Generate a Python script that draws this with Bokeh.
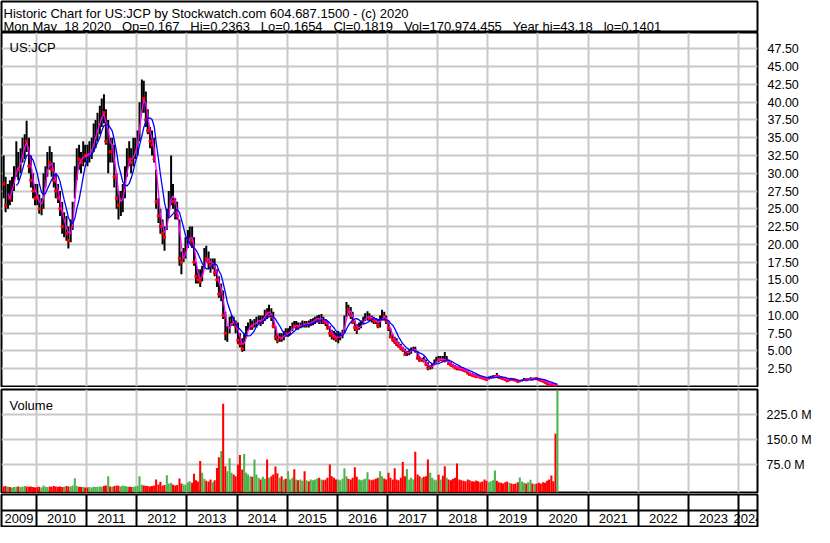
import pandas as pd
from bokeh.plotting import figure
from bokeh.layouts import column
from bokeh.models import (ColumnDataSource, Range1d, FixedTicker, NumeralTickFormatter,
                          PrintfTickFormatter, Label, Span)
from bokeh.core.properties import value
from bokeh.embed import file_html
from bokeh.resources import INLINE

# ---------------- texts ----------------
TITLE = "Historic Chart for US:JCP by Stockwatch.com 604.687.1500 - (c) 2020"
NB = "\u00a0"
QUOTE = (NB * 3).join(["Mon May" + NB * 2 + "18 2020", "Op=0.167", "Hi=0.2363", "Lo=0.1654",
                       "Cl=0.1819", "Vol=170,974,455", "Year hi=43.18", "lo=0.1401"])
SYMBOL = "US:JCP"
VOL_TITLE = "Volume"

# ---------------- data (semi-monthly periods, May 2009 .. May 2020) ----------------
PERIOD_START = "2009-05-01"
PERIOD_END = "2020-05-15"

HIGH = [
    32.5, 29.5, 28.5, 29.0, 29.5, 31.0, 34.5, 33.0, 33.5, 35.0, 35.5, 37.4, 35.0, 32.5, 30.0, 28.5,
    28.5, 27.0, 26.5, 30.0, 31.0, 33.0, 33.8, 33.0, 31.5, 30.0, 28.5, 27.5, 26.0, 24.5, 24.0, 22.5, 23.5, 26.0, 31.0, 33.5, 34.0, 33.0, 34.5, 34.0,
    34.0, 34.5, 35.0, 37.0, 37.5, 38.5, 39.5, 40.5, 41.1, 39.0, 37.5, 35.0, 35.0, 34.0, 30.0, 27.5, 27.5, 28.5, 31.0, 33.5, 34.5, 33.5, 35.0, 35.0,
    36.0, 40.0, 43.2, 43.0, 41.5, 39.0, 36.5, 36.0, 35.0, 30.5, 26.5, 25.0, 23.5, 22.5, 25.0, 27.5, 32.5, 28.5, 26.5, 26.0, 23.5, 19.0, 19.5, 21.0,
    22.0, 22.5, 22.5, 21.0, 17.5, 16.5, 16.5, 17.0, 19.5, 19.8, 19.0, 18.0, 18.0, 18.0, 16.5, 15.5, 14.5, 13.5, 10.5, 8.5, 9.8, 10.0, 9.8, 9.3,
    9.0, 7.5, 6.8, 7.5, 8.5, 9.0, 9.5, 9.3, 9.5, 9.8, 10.0, 10.0, 10.0, 10.8, 11.0, 11.5, 11.0, 10.5, 8.5, 7.5, 7.5, 7.5, 7.8, 8.2,
    8.2, 8.5, 9.0, 9.2, 9.2, 9.0, 9.0, 9.3, 9.2, 9.2, 9.3, 9.5, 9.6, 9.8, 10.0, 10.1, 10.2, 9.8, 9.5, 9.2, 8.5, 8.0, 7.8, 7.6,
    7.8, 7.6, 8.0, 10.0, 11.9, 11.5, 11.2, 10.5, 9.3, 8.8, 9.0, 9.3, 9.8, 10.3, 10.6, 10.3, 10.0, 9.8, 9.6, 9.4, 10.0, 10.8, 10.5, 10.0,
    9.3, 8.2, 7.3, 7.0, 6.8, 6.3, 6.0, 5.6, 5.3, 5.0, 5.2, 5.5, 5.6, 5.6, 5.0, 4.2, 4.0, 4.2, 3.8, 3.4, 3.0, 3.2, 3.8, 4.2,
    4.3, 4.3, 4.3, 4.85, 4.3, 3.8, 3.4, 3.2, 3.0, 2.8, 2.8, 2.7, 2.4, 2.3, 2.2, 2.0, 1.9, 1.8, 1.7, 1.6, 1.5, 1.4, 1.3, 1.2,
    1.4, 1.5, 1.6, 1.6, 1.9, 1.6, 1.4, 1.3, 1.2, 1.1, 1.1, 1.2, 1.1, 1.05, 0.95, 0.85, 1.0, 1.2, 1.1, 1.15, 1.3, 1.2, 1.25, 1.25,
    1.2, 1.05, 0.9, 0.8, 0.7, 0.45, 0.4, 0.35, 0.3, 0.24,
]
LOW = [
    26.5, 24.5, 25.0, 25.5, 26.0, 27.5, 29.5, 29.0, 30.0, 31.5, 32.0, 33.0, 30.0, 28.0, 26.5, 25.5,
    25.5, 24.3, 24.1, 25.0, 28.0, 29.5, 30.5, 29.5, 28.0, 26.5, 25.8, 24.0, 21.5, 21.0, 20.5, 19.4, 20.3, 22.0, 26.5, 29.0, 30.5, 30.0, 31.0, 31.5,
    31.0, 31.5, 32.0, 33.0, 33.5, 34.5, 35.5, 36.5, 37.0, 34.0, 30.0, 31.5, 31.5, 28.0, 25.0, 23.5, 24.0, 24.5, 26.5, 29.5, 31.0, 30.0, 31.0, 32.0,
    32.5, 34.5, 38.5, 38.5, 36.5, 35.5, 33.5, 32.5, 31.5, 25.0, 23.0, 21.5, 20.0, 19.1, 22.0, 24.0, 25.5, 25.0, 23.5, 23.5, 17.0, 15.8, 17.5, 18.0,
    19.5, 20.0, 19.5, 17.0, 14.5, 14.5, 14.0, 14.8, 16.5, 17.5, 16.5, 16.0, 16.5, 15.5, 14.0, 12.5, 12.0, 9.5, 6.5, 6.3, 7.5, 8.5, 8.5, 7.5,
    6.0, 5.5, 4.9, 5.0, 6.8, 7.8, 8.0, 8.0, 8.3, 8.3, 8.8, 8.5, 8.8, 9.2, 9.5, 10.0, 9.2, 8.2, 6.5, 6.1, 6.3, 6.3, 6.5, 7.0,
    7.0, 7.2, 7.8, 8.2, 8.0, 8.0, 8.2, 8.3, 8.3, 8.3, 8.3, 8.5, 8.6, 8.8, 9.0, 8.8, 8.8, 8.8, 8.5, 8.0, 7.0, 6.6, 6.5, 6.3,
    6.1, 6.5, 6.8, 7.5, 9.8, 10.0, 9.5, 8.8, 7.8, 7.4, 8.0, 8.2, 8.7, 9.2, 9.3, 9.2, 9.0, 8.8, 8.8, 8.2, 8.3, 9.3, 9.3, 8.8,
    7.8, 6.8, 6.3, 6.0, 5.7, 5.5, 5.1, 4.9, 4.4, 4.3, 4.4, 4.6, 5.0, 4.8, 3.8, 3.5, 3.5, 3.4, 3.0, 2.3, 2.4, 2.5, 3.0, 3.3,
    3.4, 3.6, 3.5, 3.5, 3.5, 3.1, 2.9, 2.7, 2.5, 2.3, 2.3, 2.2, 2.1, 2.0, 1.8, 1.6, 1.5, 1.4, 1.3, 1.3, 1.2, 1.1, 1.0, 0.9,
    1.0, 1.1, 1.2, 1.2, 1.3, 1.2, 1.1, 1.0, 0.9, 0.7, 0.75, 0.9, 0.85, 0.8, 0.65, 0.6, 0.7, 0.9, 0.85, 0.9, 0.95, 0.95, 1.0, 1.0,
    0.95, 0.8, 0.7, 0.55, 0.35, 0.25, 0.22, 0.2, 0.15, 0.14,
]
CLOSE = [
    28.5, 25.5, 27.5, 26.5, 28.5, 30.5, 31.0, 30.5, 32.5, 34.0, 34.5, 34.5, 31.0, 29.0, 27.5, 26.5,
    26.5, 25.0, 25.5, 29.0, 30.0, 32.0, 31.5, 30.5, 29.0, 27.5, 26.5, 25.0, 22.5, 23.0, 21.5, 20.5, 22.5, 25.5, 30.0, 32.0, 32.0, 31.5, 33.0, 32.5,
    32.5, 33.0, 34.0, 35.0, 36.0, 37.0, 38.0, 38.5, 38.5, 34.5, 35.5, 33.0, 33.5, 29.5, 26.5, 25.5, 26.0, 27.5, 30.0, 32.5, 32.0, 31.5, 33.0, 34.0,
    35.5, 39.0, 41.5, 40.5, 37.5, 36.0, 34.5, 34.0, 32.0, 26.0, 24.0, 22.5, 21.5, 21.0, 24.5, 26.5, 28.0, 26.0, 24.5, 24.0, 18.0, 17.5, 18.5, 20.0,
    21.0, 21.5, 20.5, 17.5, 15.5, 15.0, 14.8, 16.5, 18.5, 18.0, 17.5, 17.0, 17.5, 16.0, 15.0, 13.0, 13.5, 10.0, 7.5, 8.0, 9.0, 9.5, 9.0, 8.5,
    6.5, 6.0, 5.3, 7.0, 8.0, 8.5, 8.8, 8.5, 9.0, 9.3, 9.5, 9.0, 9.7, 10.6, 10.3, 10.5, 9.8, 8.5, 7.0, 6.5, 7.0, 6.8, 7.5, 7.4,
    7.5, 8.0, 8.6, 8.5, 8.7, 8.4, 8.6, 8.8, 8.7, 8.8, 8.8, 9.2, 9.3, 9.5, 9.8, 9.2, 9.6, 9.2, 9.0, 8.3, 7.5, 7.2, 7.0, 6.7,
    7.0, 7.2, 7.6, 9.8, 11.0, 10.8, 10.0, 9.0, 8.3, 8.0, 8.5, 8.9, 9.5, 9.8, 10.0, 9.6, 9.5, 9.3, 9.2, 8.6, 9.6, 10.0, 9.8, 9.2,
    8.2, 7.0, 6.6, 6.3, 6.0, 5.7, 5.4, 5.2, 4.5, 4.7, 5.0, 5.3, 5.4, 5.0, 4.0, 3.7, 3.8, 3.6, 3.1, 2.6, 2.7, 3.0, 3.5, 3.8,
    3.8, 4.0, 3.7, 3.6, 3.7, 3.2, 3.0, 2.9, 2.6, 2.6, 2.5, 2.4, 2.3, 2.2, 1.9, 1.7, 1.6, 1.5, 1.4, 1.4, 1.3, 1.2, 1.1, 1.0,
    1.2, 1.3, 1.4, 1.5, 1.45, 1.3, 1.2, 1.1, 1.0, 0.8, 1.0, 1.0, 0.95, 0.9, 0.7, 0.75, 0.95, 1.0, 0.95, 1.05, 1.1, 1.05, 1.15, 1.1,
    1.0, 0.85, 0.75, 0.6, 0.4, 0.35, 0.3, 0.25, 0.17, 0.18,
]
VOLUME_M = [
    9, 10, 8, 7, 6, 7, 8, 9, 7, 8, 10, 9, 8, 9, 7, 6,
    7, 8, 6, 12, 8, 7, 9, 8, 10, 9, 8, 9, 7, 8, 10, 9, 9, 12, 34, 10, 8, 7, 8, 6,
    6, 7, 6, 8, 7, 8, 9, 8, 10, 12, 40, 9, 8, 10, 12, 11, 9, 12, 10, 9, 8, 7, 8, 9,
    10, 40, 14, 12, 11, 10, 9, 10, 12, 30, 15, 23, 11, 13, 43, 18, 20, 14, 12, 13, 33, 18, 15, 14,
    22, 25, 20, 47, 28, 24, 86, 50, 32, 26, 24, 30, 22, 28, 65, 97, 116, 259, 70, 55, 94, 50, 45, 40,
    75, 104, 60, 107, 50, 45, 40, 38, 90, 45, 35, 30, 38, 32, 90, 35, 40, 45, 69, 49, 35, 40, 30, 32,
    55, 30, 35, 61, 30, 28, 30, 26, 55, 28, 25, 30, 28, 30, 33, 35, 30, 28, 30, 35, 75, 40, 35, 30,
    30, 28, 32, 64, 40, 32, 30, 35, 67, 38, 30, 28, 30, 32, 52, 30, 28, 30, 32, 35, 55, 40, 33, 30,
    50, 35, 30, 64, 30, 28, 35, 83, 40, 62, 30, 35, 30, 114, 45, 40, 35, 38, 40, 90, 50, 35, 30, 28,
    44, 30, 41, 70, 35, 30, 28, 32, 35, 78, 30, 28, 26, 25, 30, 28, 25, 24, 27, 25, 22, 24, 30, 26,
    22, 25, 28, 57, 26, 22, 20, 18, 22, 24, 20, 18, 16, 18, 22, 36, 24, 20, 18, 22, 29, 18, 16, 18,
    20, 18, 22, 20, 26, 30, 42, 25, 168, 302,
]

PRICE_TICKS = [2.5, 5.0, 7.5, 10.0, 12.5, 15.0, 17.5, 20.0, 22.5, 25.0, 27.5, 30.0, 32.5, 35.0,
               37.5, 40.0, 42.5, 45.0, 47.5]
VOLUME_TICKS = [75, 150, 225]
YEARS = list(range(2009, 2025))

# ---------------- derived ----------------
dates = pd.date_range(PERIOD_START, PERIOD_END, freq="SMS")
n = len(dates)
assert n == len(HIGH) == len(LOW) == len(CLOSE) == len(VOLUME_M), (n, len(HIGH), len(LOW), len(CLOSE), len(VOLUME_M))
xpos = dates + pd.Timedelta(days=7)
close_s = pd.Series(CLOSE)
up = [False] + [CLOSE[i] > CLOSE[i - 1] for i in range(1, n)]
GREEN = "#4db34d"
RED = "#ff0000"
df = pd.DataFrame({
    "x": xpos, "hi": HIGH, "lo": LOW, "cl": CLOSE, "vol": VOLUME_M,
    "vc": [GREEN if u else RED for u in up],
    "ma_fast": close_s.rolling(3).mean(),
    "ma_slow": close_s.rolling(7).mean(),
})
src = ColumnDataSource(df)
down_src = ColumnDataSource(df[[not u for u in up]])

# ---------------- layout constants ----------------
W = 814
RB = 50
FONT = "Liberation Sans"
X_START = pd.Timestamp("2009-04-22")
X_END = pd.Timestamp("2024-05-18")
xr = Range1d(X_START, X_END)
year_bounds = [pd.Timestamp(f"{y}-01-01") for y in YEARS[1:]]
bounds_ms = [b.value // 10**6 for b in year_bounds]
GRID = "#c8c8c8"


def styled(fig):
    fig.background_fill_color = "white"
    fig.border_fill_color = "white"
    fig.outline_line_color = "black"
    fig.outline_line_width = 2
    fig.outline_line_alpha = 1.0
    return fig


def label(x, y, text):
    return Label(x=x, y=y, x_units="screen", y_units="screen", text=text,
                 text_font=FONT, text_font_size="13px", text_color="black",
                 text_baseline="alphabetic")


# ---------------- header (boxed) ----------------
hdr = figure(width=W, height=32, x_range=(0, W), y_range=(0, 32), toolbar_location=None,
             output_backend="svg", min_border_left=1, min_border_right=1, min_border_top=1,
             min_border_bottom=0, x_axis_location=None, y_axis_location=None)
hdr.grid.visible = False
styled(hdr)
hdr.add_layout(label(2, 19.5, TITLE))
hdr.add_layout(label(2, 6.5, QUOTE))

# ---------------- price panel ----------------
pp = figure(width=W, height=355, x_range=xr, y_range=Range1d(0, 49.8), x_axis_type="datetime",
            x_axis_location=None, y_axis_location="right", toolbar_location=None,
            output_backend="svg", min_border_left=1, min_border_right=RB,
            min_border_top=0, min_border_bottom=1)
styled(pp)
pp.xgrid.ticker = FixedTicker(ticks=bounds_ms)
pp.ygrid.ticker = FixedTicker(ticks=PRICE_TICKS)
for g in (pp.xgrid, pp.ygrid):
    g.grid_line_color = GRID
    g.grid_line_width = 2
ax = pp.yaxis[0]
ax.ticker = FixedTicker(ticks=PRICE_TICKS)
ax.formatter = NumeralTickFormatter(format="0.00")
ax.major_tick_line_color = None
ax.minor_tick_line_color = None
ax.axis_line_color = None
ax.major_label_standoff = 4
ax.major_label_text_font = FONT
ax.major_label_text_font_size = "12.5px"
ax.major_label_text_color = "black"

pp.segment(x0="x", y0="lo", x1="x", y1="hi", source=src, line_color="black", line_width=2)
pp.scatter(x="x", y="cl", source=down_src, marker="square", size=2.2, fill_color=RED,
           line_color=RED)
pp.line(x="x", y="ma_fast", source=src, line_color="#ff00ff", line_width=1.3)
pp.line(x="x", y="ma_slow", source=src, line_color="#0000ff", line_width=1.3)
pp.add_layout(label(8, 339, SYMBOL))

# ---------------- volume panel ----------------
VOL_LO, VOL_HI = -9.3, 301.7
vp = figure(width=W, height=106, x_range=xr, y_range=Range1d(VOL_LO, VOL_HI), x_axis_type="datetime",
            x_axis_location=None, y_axis_location="right", toolbar_location=None,
            output_backend="svg", min_border_left=1, min_border_right=RB,
            min_border_top=2, min_border_bottom=1)
styled(vp)
vp.xgrid.ticker = FixedTicker(ticks=bounds_ms)
vp.ygrid.ticker = FixedTicker(ticks=VOLUME_TICKS)
for g in (vp.xgrid, vp.ygrid):
    g.grid_line_color = GRID
    g.grid_line_width = 2
vax = vp.yaxis[0]
vax.ticker = FixedTicker(ticks=VOLUME_TICKS)
vax.formatter = PrintfTickFormatter(format="%.1f M")
vax.major_tick_line_color = None
vax.minor_tick_line_color = None
vax.axis_line_color = None
vax.major_label_standoff = 3
vax.major_label_text_font = FONT
vax.major_label_text_font_size = "12.5px"
vax.major_label_text_color = "black"
vp.vbar(x="x", top="vol", bottom=VOL_LO, width=15 * 86400000, source=src,
        fill_color="vc", line_color=None)
vp.add_layout(label(8, 87, VOL_TITLE))

# ---------------- year band ----------------
edges = [X_START] + year_bounds + [X_END]
centers = [edges[i] + (edges[i + 1] - edges[i]) / 2 for i in range(len(YEARS))]
bp = figure(width=W, height=34, x_range=xr, y_range=Range1d(0, 2), x_axis_type="datetime",
            x_axis_location=None, y_axis_location=None, toolbar_location=None,
            output_backend="svg", min_border_left=1, min_border_right=RB,
            min_border_top=1, min_border_bottom=1)
styled(bp)
bp.xgrid.ticker = FixedTicker(ticks=bounds_ms)
bp.xgrid.grid_line_color = "black"
bp.xgrid.grid_line_width = 2
bp.ygrid.visible = False
bp.add_layout(Span(location=1, dimension="width", line_color="black", line_width=2))
bp.text(x=centers, y=[0.5] * len(YEARS), text=[str(y) for y in YEARS],
        text_font=value(FONT), text_font_size="13px", text_color="black",
        text_align="center", text_baseline="middle")

layout = column(hdr, pp, vp, bp, spacing=0)
open("out.html", "w").write(file_html(layout, INLINE))
